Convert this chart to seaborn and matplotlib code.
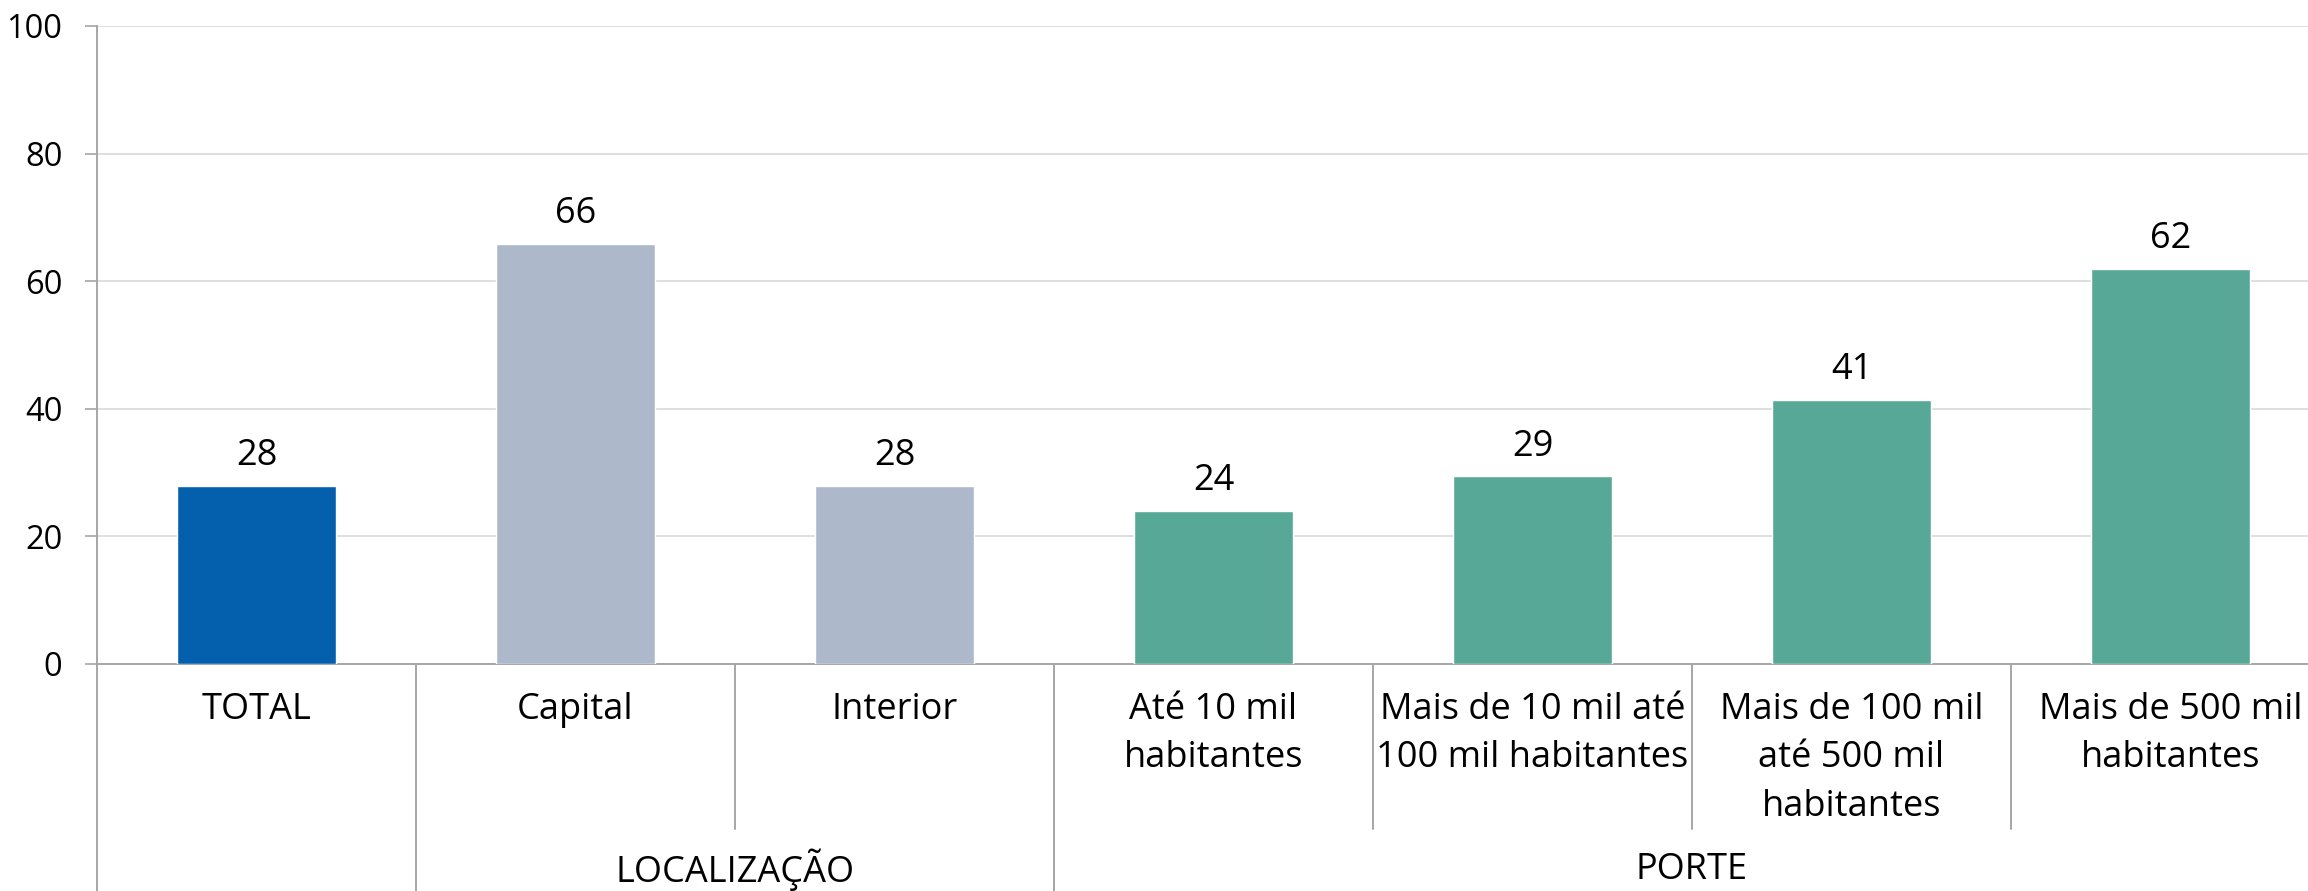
import matplotlib
matplotlib.use("Agg")
import matplotlib.pyplot as plt
import matplotlib.transforms as mtransforms
import seaborn as sns

# Dados
categorias = ["TOTAL", "Capital", "Interior", "Até 10 mil\nhabitantes",
              "Mais de 10 mil até\n100 mil habitantes",
              "Mais de 100 mil\naté 500 mil\nhabitantes",
              "Mais de 500 mil\nhabitantes"]
valores = [27.9, 65.8, 27.9, 24.0, 29.4, 41.4, 61.9]
cores = ["#0460AD", "#ADB9CA", "#ADB9CA", "#58A897", "#58A897", "#58A897", "#58A897"]
grupos = ["LOCALIZAÇÃO", "PORTE"]
grupos_pos = [1.5, 4.5]
separadores_longos = [-0.5, 0.5, 2.5]
separadores_curtos = [1.5, 3.5, 4.5, 5.5]
yticks = [0, 20, 40, 60, 80, 100]

sns.set_style("white")
plt.rcParams["font.family"] = ["Open Sans", "DejaVu Sans"]

W, H = 2308, 891
fig = plt.figure(figsize=(W / 100, H / 100), dpi=100)
ax_bottom = (H - 664) / H
ax_top = (H - 26) / H
ax = fig.add_axes([97 / W, ax_bottom, 2233 / W, ax_top - ax_bottom])

sns.barplot(x=categorias, y=valores, hue=categorias, palette=cores, width=0.5,
            saturation=1, legend=False, ax=ax, zorder=3)

ax.set_xlim(-0.5, 6.5)
ax.set_ylim(0, 100)
ax.set_yticks(yticks)
ax.yaxis.grid(True, color="#D9D9D9", linewidth=1.2, zorder=0)
ax.set_axisbelow(True)
for s in ["top", "right"]:
    ax.spines[s].set_visible(False)
ax.spines["left"].set_color("#A6A6A6")
ax.spines["left"].set_linewidth(1.4)
ax.spines["bottom"].set_color("#A6A6A6")
ax.spines["bottom"].set_linewidth(1.4)
ax.tick_params(axis="y", length=9, width=1.2, color="#A6A6A6", pad=16,
               labelsize=23.5, labelcolor="#000000", left=True)
ax.tick_params(axis="x", length=0, pad=20, labelsize=26, labelcolor="#000000")
for lbl in ax.get_xticklabels():
    lbl.set_linespacing(1.47)
ax.set_xlabel("")
ax.set_ylabel("")

# Rótulos de valor
for i, v in enumerate(valores):
    ax.annotate(f"{round(v)}", (i, v), xytext=(0, 15), textcoords="offset points",
                ha="center", va="baseline", fontsize=26, color="#000000")

# Linhas separadoras das categorias
blend = mtransforms.blended_transform_factory(ax.transData, fig.transFigure)
for x in separadores_longos:
    ax.plot([x, x], [ax_bottom, 0], transform=blend, clip_on=False,
            color="#A6A6A6", linewidth=1.4)
for x in separadores_curtos:
    ax.plot([x, x], [ax_bottom, (H - 829) / H], transform=blend, clip_on=False,
            color="#A6A6A6", linewidth=1.4)

# Rótulos de grupo
for g, x in zip(grupos, grupos_pos):
    ax.text(x, (H - 870) / H, g, transform=blend, ha="center", va="center",
            fontsize=26, color="#000000")

fig.savefig("out.png", dpi=100)
